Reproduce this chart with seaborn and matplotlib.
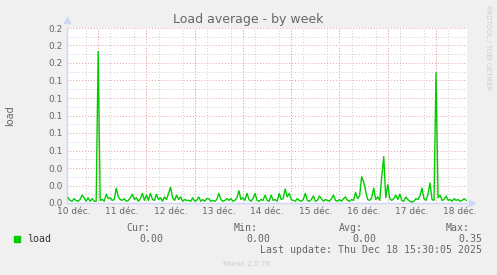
import numpy as np
import matplotlib
matplotlib.use("Agg")
import matplotlib.pyplot as plt
from matplotlib.ticker import MultipleLocator, FixedLocator, FuncFormatter
from matplotlib.patches import Rectangle
import seaborn as sns
import pandas as pd

# ---- data (hours since 10 déc 00:00, one point per hour) ----
hour_start = 9
load = [
    0.006, 0.003, 0.002, 0.005, 0.003, 0.002, 0.004, 0.009, 0.006, 0.002,
    0.006, 0.002, 0.005, 0.002, 0.002, 0.173, 0.003, 0.004, 0.002, 0.010,
    0.005, 0.006, 0.003, 0.004, 0.017, 0.007, 0.004, 0.003, 0.005, 0.002,
    0.003, 0.006, 0.010, 0.004, 0.006, 0.002, 0.005, 0.011, 0.003, 0.009,
    0.003, 0.011, 0.004, 0.003, 0.010, 0.004, 0.006, 0.002, 0.007, 0.004,
    0.011, 0.018, 0.006, 0.003, 0.009, 0.004, 0.007, 0.002, 0.004, 0.003,
    0.003, 0.002, 0.006, 0.002, 0.003, 0.007, 0.002, 0.004, 0.002, 0.005,
    0.005, 0.002, 0.003, 0.002, 0.004, 0.011, 0.004, 0.002, 0.003, 0.005,
    0.003, 0.005, 0.002, 0.003, 0.006, 0.014, 0.004, 0.006, 0.003, 0.011,
    0.004, 0.002, 0.005, 0.011, 0.003, 0.002, 0.004, 0.003, 0.009, 0.003,
    0.002, 0.009, 0.003, 0.004, 0.002, 0.011, 0.004, 0.005, 0.016, 0.007,
    0.011, 0.004, 0.003, 0.002, 0.005, 0.003, 0.002, 0.004, 0.011, 0.003,
    0.002, 0.004, 0.008, 0.002, 0.003, 0.008, 0.005, 0.002, 0.004, 0.003,
    0.002, 0.005, 0.009, 0.003, 0.002, 0.004, 0.002, 0.005, 0.007, 0.003,
    0.002, 0.004, 0.003, 0.012, 0.005, 0.008, 0.030, 0.024, 0.014, 0.004,
    0.003, 0.006, 0.017, 0.004, 0.007, 0.003, 0.030, 0.053, 0.006, 0.021,
    0.005, 0.003, 0.005, 0.009, 0.004, 0.010, 0.003, 0.002, 0.007, 0.004,
    0.002, 0.001, 0.002, 0.005, 0.004, 0.008, 0.017, 0.005, 0.003, 0.010,
    0.023, 0.004, 0.003, 0.149, 0.006, 0.009, 0.003, 0.004, 0.008, 0.003,
    0.004, 0.002, 0.005, 0.003, 0.004, 0.002, 0.003, 0.005, 0.003,
]
hours = list(range(hour_start, hour_start + len(load)))

day_labels = ["10 déc.", "11 déc.", "12 déc.", "13 déc.", "14 déc.",
              "15 déc.", "16 déc.", "17 déc.", "18 déc."]

title = "Load average - by week"
ylabel = "load"
legend_name = "load"
stat_names = ["Cur:", "Min:", "Avg:", "Max:"]
stat_values = ["0.00", "0.00", "0.00", "0.35"]
last_update = "Last update: Thu Dec 18 15:30:05 2025"
footer = "Munin 2.0.76"
side_text = "RRDTOOL / TOBI OETIKER"

# ---- styling ----
W, H = 497, 275
BACK = "#F0F0F0"
FONT = "#666666"
AXIS = "#CFD6F8"
LINE = "#00CC00"
MGRID = "#E8A0A0"
GRID = "#CDCDCD"

fig = plt.figure(figsize=(W / 100, H / 100), dpi=100, facecolor=BACK)
ax = fig.add_axes([67 / W, 1 - 203 / H, 400 / W, 175 / H])
ax.set_facecolor("white")

df = pd.DataFrame({"hour": hours, "load": load})
sns.lineplot(data=df, x="hour", y="load", ax=ax, color=LINE, lw=1.0, zorder=5)

ax.set_xlim(8.5, 207.4)
ax.set_ylim(0, 0.2)

# grids
ax.yaxis.set_major_locator(MultipleLocator(0.02))
ax.yaxis.set_minor_locator(MultipleLocator(0.01))
ax.yaxis.set_major_formatter(FuncFormatter(lambda v, p: "%.1f" % v))
ax.xaxis.set_minor_locator(MultipleLocator(6))
ax.xaxis.set_major_locator(FixedLocator([12 + 24 * i for i in range(len(day_labels))]))
ax.set_xticklabels(day_labels)

ax.grid(False)
ax.grid(which="minor", axis="both", color=GRID, lw=0.7, ls=(0, (1, 2)), zorder=1)
ax.grid(which="major", axis="y", color=MGRID, lw=0.7, ls=(0, (1, 2)), zorder=2)
for d in range(1, len(day_labels)):
    ax.axvline(24 * d, color=MGRID, lw=0.7, ls=(0, (1, 2)), zorder=2)

ax.tick_params(which="both", length=0, colors=FONT, labelsize=6.5, pad=3)
for lbl in ax.get_xticklabels() + ax.get_yticklabels():
    lbl.set_color(FONT)
ax.set_xlabel("")
ax.set_ylabel(ylabel, color=FONT, fontsize=7)
ax.yaxis.set_label_coords(-52 / 400, 0.5)

for s in ["top", "right"]:
    ax.spines[s].set_visible(False)
for s in ["left", "bottom"]:
    ax.spines[s].set_color(AXIS)
    ax.spines[s].set_linewidth(1.0)

# arrows
ax.plot([0], [1.045], marker="^", color=AXIS, ms=4, transform=ax.transAxes, clip_on=False)
ax.plot([1.012], [0], marker=">", color=AXIS, ms=4, transform=ax.transAxes, clip_on=False)

def px(x, y):
    return x / W, 1 - y / H

fig.text(*px(248, 19), title, ha="center", va="center", color=FONT, fontsize=9)
fig.text(*px(488, 5), side_text, ha="center", va="top", rotation=270,
         color="#CCCCCC", fontsize=4.8)

mono = "DejaVu Sans Mono"
fs = 7.1
fig.patches.append(Rectangle(px(14, 242), 6 / W, 6 / H, transform=fig.transFigure,
                             color=LINE, figure=fig))
fig.text(*px(27, 239), legend_name, ha="left", va="center", family=mono, fontsize=fs, color="#333333")
name_right = [150, 258, 363, 470]
val_right = [163, 270, 376, 482]
for n, v, xn, xv in zip(stat_names, stat_values, name_right, val_right):
    fig.text(*px(xn, 228), n, ha="right", va="center", family=mono, fontsize=fs, color=FONT)
    fig.text(*px(xv, 239), v, ha="right", va="center", family=mono, fontsize=fs, color=FONT)
fig.text(*px(482, 250), last_update, ha="right", va="center", family=mono, fontsize=fs, color=FONT)
fig.text(*px(247, 264), footer, ha="center", va="center", color="#CCCCCC", fontsize=5.2)

fig.savefig("out.png", dpi=100, facecolor=BACK)
